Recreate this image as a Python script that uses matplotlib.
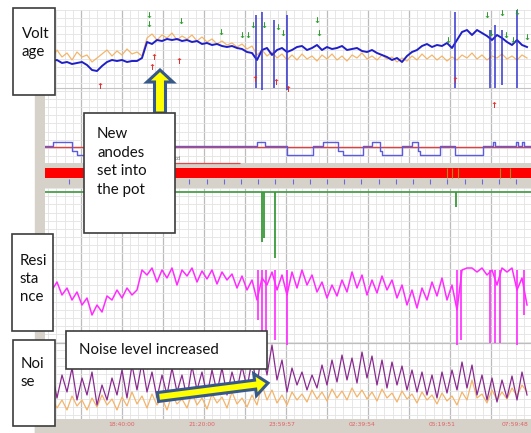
import numpy as np
import matplotlib
matplotlib.use('Agg')
import matplotlib.pyplot as plt
from matplotlib.patches import Rectangle, FancyArrow
from matplotlib.ticker import MultipleLocator
from matplotlib.transforms import Affine2D

# Time axis: minutes from 18:40:00, one sample every 10 minutes
T0, T1 = -154, 818
t_start, t_step = -150, 10

time_ticks = [0, 160, 320, 480, 640, 800]
time_labels = ['18:40:00', '21:20:00', '23:59:57', '02:39:54', '05:19:51', '07:59:48']

# Cell voltage (V): blue = measured, orange = filtered
volt_blue = [4.40, 4.39, 4.40, 4.37, 4.38, 4.36, 4.37, 4.38, 4.35, 4.30,
             4.29, 4.34, 4.38, 4.40, 4.39, 4.40, 4.38, 4.39, 4.39, 4.42,
             4.58, 4.56, 4.60, 4.59, 4.61, 4.60, 4.61, 4.59, 4.60, 4.58,
             4.59, 4.56, 4.57, 4.55, 4.56, 4.54, 4.53, 4.54, 4.52, 4.51,
             4.48, 4.47,
             4.40, 4.50, 4.52, 4.45, 4.50, 4.52, 4.48, 4.50, 4.53, 4.54,
             4.50, 4.52, 4.55, 4.50, 4.53, 4.51, 4.52, 4.54, 4.50, 4.51,
             4.52, 4.49, 4.48, 4.50, 4.47, 4.45, 4.43, 4.40, 4.42, 4.38,
             4.44, 4.48, 4.50, 4.54, 4.56, 4.53, 4.55, 4.54, 4.57, 4.52,
             4.60, 4.68, 4.70, 4.65, 4.70, 4.67, 4.64, 4.60, 4.65, 4.62,
             4.58, 4.55, 4.60, 4.55, 4.53]
volt_orange = [4.48, 4.42, 4.50, 4.43, 4.47, 4.40, 4.48, 4.43, 4.45, 4.38,
               4.42, 4.46, 4.50, 4.44, 4.49, 4.45, 4.51, 4.46, 4.48, 4.44,
               4.62, 4.66, 4.60, 4.65, 4.62, 4.67, 4.60, 4.64, 4.61, 4.65,
               4.59, 4.63, 4.58, 4.61, 4.56, 4.59, 4.55, 4.57, 4.53, 4.56,
               4.51, 4.54,
               4.45, 4.50, 4.44, 4.48, 4.42, 4.46, 4.40, 4.45, 4.40, 4.46,
               4.41, 4.44, 4.39, 4.45, 4.41, 4.46, 4.40, 4.44, 4.39, 4.45,
               4.42, 4.47, 4.41, 4.44, 4.40, 4.45, 4.41, 4.43, 4.38, 4.42,
               4.39, 4.44, 4.40, 4.46, 4.41, 4.45, 4.40, 4.44, 4.39, 4.43,
               4.40, 4.45, 4.42, 4.47, 4.41, 4.45, 4.40, 4.44, 4.42, 4.46,
               4.41, 4.44, 4.40, 4.45, 4.42]
# voltage spikes (anode effects etc.)
vspike_t = [268, 280, 304, 330, 666, 736, 746, 760, 790]
vspike_lo = [4.12, 4.10, 4.12, 4.10, 4.12, 4.12, 4.12, 4.15, 4.12]
vspike_hi = [4.85, 4.88, 4.80, 4.85, 4.88, 4.70, 4.75, 4.70, 4.90]

# event markers
green_t = [54, 54, 118, 198, 240, 252, 262, 284, 312, 322, 390, 394,
           652, 730, 738, 760, 768, 782, 790, 810]
green_v = [4.85, 4.76, 4.79, 4.68, 4.65, 4.65, 4.75, 4.75, 4.73, 4.67, 4.80, 4.67,
           4.60, 4.85, 4.67, 4.87, 4.65, 4.60, 4.88, 4.63]
red_t = [-44, 64, 60, 114, 266, 308, 332, 666, 744]
red_v = [4.14, 4.43, 4.33, 4.39, 4.20, 4.18, 4.11, 4.19, 3.94]

# Status strip: step states (1 high, 0 base, -1 mid, -2 low)
step_t = [-154, -138, -100, -90, -44, 270, 286, 330, 382, 402, 432, 442, 482,
          500, 516, 520, 560, 580, 592, 596, 636, 666, 722, 742, 746, 788,
          792, 800, 804, 818]
step_state = [0, 1, -1, -2, 0, 1, 0, -2, 0, 1, -1, -2, 0,
              1, -1, -2, 0, 1, -1, -2, 0, -2, 0, 1, 0, 1,
              0, 1, 0, 0]
olive_t = [650, 660, 672, 756, 776]
gspike_t = [280, 284, 306, 668]
gspike_depth = [50, 46, 66, 15]

# Resistance (uOhm)
resist = [16.0, 15.5, 16.3, 15.0, 15.7, 14.5, 15.3, 14.0, 14.7, 13.0,
          14.0, 13.3, 14.9, 14.5, 15.5, 14.7, 15.7, 15.0, 15.5, 17.5,
          17.0, 17.7, 16.3, 17.5, 16.7, 17.7, 16.0, 17.5, 16.9, 17.7,
          16.3, 17.4, 16.6, 17.5, 16.1, 17.3, 16.5, 17.1, 15.7, 16.9,
          15.5, 16.5,
          14.5, 16.7, 16.0, 17.3, 15.5, 17.0, 15.0, 17.3, 15.7, 17.5,
          16.0, 17.0, 15.3, 16.3, 14.7, 16.0, 14.9, 16.5, 15.3, 17.3,
          15.7, 17.0, 15.0, 16.5, 15.2, 16.9, 15.5, 16.5, 14.7, 16.0,
          14.0, 15.5, 13.7, 15.7, 14.5, 16.3, 14.9, 16.7, 14.5, 16.0,
          13.5, 17.5, 17.7, 17.7, 17.3, 17.7, 17.0, 17.5, 16.0, 17.7,
          17.3, 17.7, 15.5, 16.7, 14.0]
rspike_t = [272, 280, 288, 306, 330, 670, 678, 736, 746, 756, 790, 804]
rspike_lo = [12.5, 10.0, 11.0, 10.5, 10.0, 10.0, 10.5, 10.2, 10.2, 10.2, 10.0, 13.0]

# Noise (nOhm)
noise_purple = [3.0, 4.8, 2.2, 4.5, 2.8, 5.2, 2.0, 4.2, 2.5, 4.8,
                1.5, 3.5, 2.0, 4.2, 2.5, 5.0, 2.2, 5.5, 3.0, 5.8,
                2.8, 4.8, 2.2, 4.5, 2.5, 5.2, 2.8, 4.5, 2.2, 5.4,
                3.0, 4.8, 2.4, 5.0, 2.8, 5.2, 2.5, 4.8, 3.0, 5.4,
                3.2, 6.0,
                3.5, 7.0, 4.5, 7.5, 4.0, 6.0, 2.8, 5.2, 3.5, 4.8,
                3.0, 4.5, 3.2, 5.5, 3.5, 6.0, 3.8, 6.5, 4.0, 6.2,
                3.7, 6.8, 4.2, 6.4, 3.5, 6.0, 3.2, 5.8, 3.5, 5.4,
                3.0, 5.0, 2.8, 4.8, 2.5, 4.5, 2.2, 4.8, 2.7, 5.0,
                3.0, 5.8, 3.2, 5.5, 2.5, 4.5, 2.0, 4.2, 1.8, 4.0,
                2.2, 4.4, 2.0, 4.8, 2.5]
noise_orange = [1.5, 2.2, 1.2, 2.0, 1.0, 2.4, 1.4, 2.0, 1.0, 2.2,
                1.3, 2.5, 1.5, 2.1, 1.0, 2.3, 1.4, 2.8, 1.6, 2.4,
                1.2, 2.6, 1.5, 2.2, 1.0, 2.5, 1.6, 2.1, 1.2, 2.7,
                1.5, 2.2, 1.1, 2.6, 1.7, 2.3, 1.2, 2.8, 1.6, 2.2,
                1.3, 2.5,
                1.5, 3.5, 2.0, 3.0, 1.7, 2.5, 1.5, 2.8, 2.0, 2.6,
                1.8, 3.0, 2.1, 2.8, 1.9, 3.1, 2.2, 2.9, 2.0, 3.2,
                2.3, 3.0, 2.1, 2.8, 1.9, 3.1, 2.2, 2.7, 1.8, 2.9,
                2.1, 2.6, 1.7, 2.8, 2.0, 2.5, 1.6, 2.7, 1.9, 2.4,
                1.5, 2.8, 2.0, 4.0, 2.2, 2.6, 1.7, 3.0, 2.0, 2.8,
                2.1, 3.2, 2.4, 3.5, 2.8]


def times(values):
    return t_start + t_step * np.arange(len(values))


W, H = 531, 433
fig = plt.figure(figsize=(W / 100, H / 100), dpi=100)
fig.patch.set_facecolor('white')
px = Affine2D().scale(1 / W, -1 / H).translate(0, 1) + fig.transFigure


def box(x0, y0, x1, y1):
    return [x0 / W, 1 - y1 / H, (x1 - x0) / W, (y1 - y0) / H]


frame_gray = '#d6d2ca'
fig.add_artist(Rectangle((35, 10), 10, 423, transform=px, color=frame_gray, zorder=0))
fig.add_artist(Rectangle((35, 419), 496, 14, transform=px, color=frame_gray, zorder=0))

# grid background (y in screen rows)
bg = fig.add_axes(box(45, 10, 531, 419))
bg.set_xlim(T0, T1)
bg.set_ylim(419, 10)
bg.xaxis.set_major_locator(MultipleLocator(82))
bg.xaxis.set_minor_locator(MultipleLocator(16.4))
bg.yaxis.set_major_locator(MultipleLocator(8.1, offset=10))
bg.grid(which='minor', axis='x', color='#e3e3e3', lw=0.6)
bg.grid(which='major', axis='x', color='#bcbcbc', lw=0.9)
bg.grid(which='major', axis='y', color='#e3e3e3', lw=0.6)
bg.set_axisbelow(True)
bg.tick_params(which='both', length=0, labelbottom=False, labelleft=False)
for s in bg.spines.values():
    s.set_visible(False)
bg.axhline(88, color='#c4c4c4', lw=0.8)
bg.axhline(343, color='#bdbdbd', lw=0.9)

# status strip fixtures
bg.axhspan(163, 188, color=frame_gray, lw=0)
bg.axhspan(168, 178, color='#ff0000', lw=0)
bg.vlines(np.arange(-106, T1, 34.4), 179, 184, color='#6b6bd6', lw=0.8)
bg.vlines(olive_t, 168, 178, color='#b08a20', lw=0.8)
bg.axhline(192, color='#4a9e4a', lw=1.3)
bg.vlines(gspike_t, 192, 192 + np.array(gspike_depth), color='#3a9a3a', lw=1.3)
bg.hlines(163, 56, 236, color='#e04848', lw=0.9)
bg.text(112, 161, 'pd', fontsize=3.5, color='#666666', ha='center', va='bottom')

for t, lab in zip(time_ticks, time_labels):
    last = t == time_ticks[-1]
    bg.text(t - (14 if last else 0), 424, lab, fontsize=4.3, color='#e06060',
            ha='center', va='center', clip_on=False)


def overlay(rect, ylim):
    ax = fig.add_axes(rect)
    ax.set_xlim(T0, T1)
    ax.set_ylim(*ylim)
    ax.set_facecolor('none')
    ax.axis('off')
    return ax


# status step line
sa = overlay(box(45, 138, 531, 159), (-3, 2))
sa.axhline(-0.25, color='#e04040', lw=1.0)
sa.step(step_t, step_state, where='post', color='#5b5be0', lw=1.0)

# voltage
va = overlay(box(45, 10, 531, 110), (3.9, 4.9))
va.plot(times(volt_orange), volt_orange, color='#f3ae5c', lw=0.9, alpha=0.9)
va.plot(times(volt_blue), volt_blue, color='#1f1fc8', lw=1.4)
va.vlines(vspike_t, vspike_lo, vspike_hi, color='#3535d0', lw=1.1)
for t, v in zip(green_t, green_v):
    va.text(t, v, '↓', color='#2f9e2f', fontsize=6, ha='center', va='center', fontweight='bold')
for t, v in zip(red_t, red_v):
    va.text(t, v, '↑', color='#e03030', fontsize=6, ha='center', va='center', fontweight='bold')

# resistance
ra = overlay(box(45, 255, 531, 345), (10, 19))
ra.plot(times(resist), resist, color='#ff2bff', lw=1.1)
ra.vlines(rspike_t, rspike_lo, 17.5, color='#ff2bff', lw=1.2)

# noise
na = overlay(box(45, 330, 531, 420), (0, 9))
na.plot(times(noise_orange), noise_orange, color='#f4b46a', lw=0.9)
na.plot(times(noise_purple), noise_purple, color='#8a2a90', lw=0.9)

# annotation arrows and boxes (screen pixels)
fig.add_artist(FancyArrow(160, 113, 0, -43, width=11, head_width=26, head_length=12,
                          length_includes_head=True, transform=px, fc='#ffff00',
                          ec='#37598a', lw=2.2, zorder=4))
fig.add_artist(FancyArrow(158, 397, 110, -14, width=9, head_width=22, head_length=13,
                          length_includes_head=True, transform=px, fc='#ffff00',
                          ec='#37598a', lw=2.2, zorder=4))

font = ['Lato', 'DejaVu Sans']
boxes = [
    ((13, 8, 55, 95), (22, 43), 'Volt\nage'),
    ((84, 113, 175, 233), (97, 162), 'New\nanodes\nset into\nthe pot'),
    ((12, 234, 53, 331), (20, 279), 'Resi\nsta\nnce'),
    ((13, 340, 55, 426), (21, 373), 'Noi\nse'),
    ((66, 331, 267, 369), (79, 350), 'Noise level increased'),
]
for (x0, y0, x1, y1), (tx, ty), s in boxes:
    fig.add_artist(Rectangle((x0, y0), x1 - x0, y1 - y0, transform=px, fc='white',
                             ec='#3c3c3c', lw=1.2, zorder=5))
    fig.text(tx, ty, s, transform=px, fontsize=10.8, family=font, color='#111111',
             ha='left', va='center', linespacing=1.4, zorder=6)

fig.savefig('out.png', dpi=100)
